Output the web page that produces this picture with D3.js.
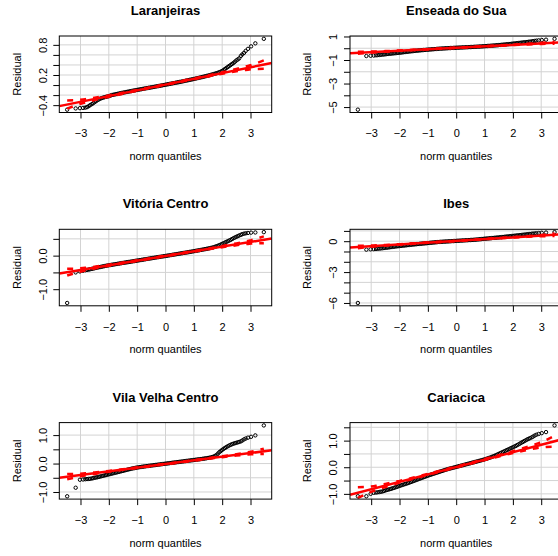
<!DOCTYPE html>
<html>
<head>
<meta charset="utf-8">
<script src="https://cdn.jsdelivr.net/npm/d3@7"></script>
<style>
body { margin: 0; background: #fff; }
text { font-family: "Liberation Sans", Arial, Helvetica, sans-serif; }
</style>
</head>
<body>
<div id="chart"></div>
<script>
// theoretical normal quantiles (x of every point)
const quantiles = [-3.47, -3.17, -3.02, -2.91, -2.83, -2.77, -2.71, -2.66,
    -2.6, -2.55, -2.5, -2.45, -2.4, -2.35, -2.3, -2.25, -2.2, -2.15,
    -2.1, -2.05, -2.0, -1.95, -1.9, -1.85, -1.8, -1.75, -1.7, -1.65,
    -1.6, -1.55, -1.5, -1.45, -1.4, -1.35, -1.3, -1.25, -1.2, -1.15,
    -1.1, -1.05, -1.0, -0.95, -0.9, -0.85, -0.8, -0.75, -0.7, -0.65,
    -0.6, -0.55, -0.5, -0.45, -0.4, -0.35, -0.3, -0.25, -0.2, -0.15,
    -0.1, -0.05, 0, 0.05, 0.1, 0.15, 0.2, 0.25, 0.3, 0.35,
    0.4, 0.45, 0.5, 0.55, 0.6, 0.65, 0.7, 0.75, 0.8, 0.85,
    0.9, 0.95, 1.0, 1.05, 1.1, 1.15, 1.2, 1.25, 1.3, 1.35,
    1.4, 1.45, 1.5, 1.55, 1.6, 1.65, 1.7, 1.75, 1.8, 1.85,
    1.9, 1.95, 2.0, 2.05, 2.1, 2.15, 2.2, 2.25, 2.3, 2.35,
    2.4, 2.45, 2.5, 2.55, 2.6,
    2.66, 2.71, 2.77, 2.83, 2.91, 3.02, 3.17, 3.47]

// sorted residuals, one per quantile
const laranjeiras = [-0.49, -0.465, -0.46, -0.455, -0.45, -0.44, -0.42, -0.40,
    -0.38, -0.36, -0.34, -0.32, -0.30, -0.285, -0.27, -0.26, -0.25, -0.242,
    -0.235, -0.228, -0.222, -0.211, -0.20, -0.194, -0.188, -0.182, -0.176, -0.17,
    -0.164, -0.158, -0.152, -0.146, -0.141, -0.135, -0.130, -0.124, -0.119, -0.113,
    -0.108, -0.102, -0.097, -0.092, -0.087, -0.082, -0.077, -0.071, -0.066, -0.061,
    -0.056, -0.051, -0.046, -0.041, -0.036, -0.03, -0.025, -0.02, -0.015, -0.01,
    -0.004, 0.001, 0.007, 0.012, 0.018, 0.023, 0.029, 0.034, 0.04, 0.045,
    0.051, 0.056, 0.062, 0.067, 0.073, 0.079, 0.085, 0.091, 0.097, 0.103,
    0.109, 0.115, 0.121, 0.127, 0.134, 0.14, 0.147, 0.153, 0.16, 0.167,
    0.174, 0.181, 0.188, 0.195, 0.203, 0.211, 0.219, 0.227, 0.236, 0.245,
    0.255, 0.267, 0.28, 0.30, 0.32, 0.34, 0.36, 0.38, 0.40, 0.42,
    0.44, 0.465, 0.49, 0.51, 0.53,
    0.58, 0.61, 0.64, 0.68, 0.72, 0.77, 0.83, 0.92]

const enseada = [-5.22, -0.66, -0.64, -0.62, -0.60, -0.585, -0.57, -0.555,
    -0.54, -0.525, -0.51, -0.495, -0.48, -0.467, -0.455, -0.442, -0.43, -0.417,
    -0.405, -0.392, -0.38, -0.365, -0.35, -0.335, -0.32, -0.305, -0.29, -0.275,
    -0.26, -0.247, -0.235, -0.222, -0.21, -0.197, -0.185, -0.172, -0.16, -0.15,
    -0.14, -0.13, -0.12, -0.11, -0.10, -0.09, -0.08, -0.07, -0.06, -0.05,
    -0.04, -0.032, -0.025, -0.017, -0.01, -0.002, 0.005, 0.012, 0.018, 0.024,
    0.03, 0.036, 0.042, 0.048, 0.054, 0.06, 0.066, 0.072, 0.078, 0.084,
    0.09, 0.096, 0.102, 0.108, 0.115, 0.121, 0.128, 0.135, 0.142, 0.149,
    0.157, 0.165, 0.173, 0.181, 0.19, 0.199, 0.208, 0.217, 0.227, 0.237,
    0.247, 0.257, 0.268, 0.279, 0.29, 0.301, 0.313, 0.325, 0.337, 0.349,
    0.362, 0.375, 0.388, 0.401, 0.415, 0.429, 0.443, 0.457, 0.472, 0.486,
    0.50, 0.515, 0.53, 0.545, 0.56,
    0.58, 0.60, 0.62, 0.645, 0.67, 0.70, 0.73, 0.80]

const vitoria = [-1.41, -0.50, -0.47, -0.45, -0.435, -0.425, -0.415, -0.405,
    -0.395, -0.385, -0.375, -0.365, -0.355, -0.346, -0.338, -0.329, -0.32, -0.311,
    -0.303, -0.295, -0.287, -0.28, -0.273, -0.266, -0.259, -0.252, -0.245, -0.238,
    -0.231, -0.224, -0.217, -0.21, -0.203, -0.196, -0.19, -0.183, -0.176, -0.169,
    -0.162, -0.155, -0.148, -0.141, -0.134, -0.127, -0.12, -0.113, -0.106, -0.099,
    -0.092, -0.085, -0.078, -0.071, -0.064, -0.057, -0.05, -0.043, -0.037, -0.03,
    -0.024, -0.017, -0.01, -0.003, 0.004, 0.011, 0.018, 0.025, 0.032, 0.039,
    0.046, 0.053, 0.06, 0.067, 0.074, 0.081, 0.088, 0.095, 0.102, 0.11,
    0.117, 0.124, 0.132, 0.14, 0.147, 0.154, 0.162, 0.17, 0.178, 0.186,
    0.194, 0.202, 0.211, 0.22, 0.229, 0.239, 0.25, 0.265, 0.28, 0.295,
    0.31, 0.33, 0.35, 0.37, 0.39, 0.41, 0.43, 0.45, 0.47, 0.495,
    0.52, 0.54, 0.56, 0.58, 0.60,
    0.62, 0.64, 0.655, 0.665, 0.675, 0.685, 0.69, 0.70]

const ibes = [-6.0, -0.82, -0.79, -0.77, -0.75, -0.73, -0.715, -0.70,
    -0.68, -0.665, -0.645, -0.627, -0.608, -0.59, -0.571, -0.553, -0.534, -0.516,
    -0.497, -0.484, -0.47, -0.454, -0.438, -0.423, -0.407, -0.392, -0.376, -0.361,
    -0.345, -0.33, -0.315, -0.302, -0.288, -0.275, -0.261, -0.248, -0.234, -0.221,
    -0.207, -0.194, -0.18, -0.167, -0.153, -0.14, -0.126, -0.113, -0.099, -0.086,
    -0.072, -0.064, -0.055, -0.047, -0.038, -0.03, -0.021, -0.013, -0.004, 0.005,
    0.013, 0.022, 0.03, 0.039, 0.047, 0.056, 0.064, 0.073, 0.081, 0.09,
    0.098, 0.107, 0.115, 0.124, 0.132, 0.141, 0.154, 0.168, 0.181, 0.195,
    0.208, 0.222, 0.235, 0.249, 0.261, 0.275, 0.287, 0.301, 0.313, 0.327,
    0.339, 0.353, 0.365, 0.38, 0.394, 0.409, 0.423, 0.438, 0.452, 0.467,
    0.481, 0.496, 0.51, 0.526, 0.541, 0.557, 0.572, 0.588, 0.603, 0.619,
    0.634, 0.65, 0.665, 0.684, 0.702,
    0.72, 0.735, 0.75, 0.77, 0.79, 0.815, 0.84, 0.88]

const vilaVelha = [-1.15, -0.85, -0.57, -0.56, -0.55, -0.545, -0.54, -0.535,
    -0.525, -0.512, -0.50, -0.49, -0.48, -0.467, -0.455, -0.442, -0.43, -0.417,
    -0.405, -0.392, -0.38, -0.367, -0.355, -0.342, -0.33, -0.317, -0.305, -0.292,
    -0.28, -0.267, -0.255, -0.242, -0.23, -0.217, -0.205, -0.192, -0.18, -0.17,
    -0.16, -0.15, -0.14, -0.132, -0.125, -0.117, -0.11, -0.103, -0.096, -0.089,
    -0.083, -0.076, -0.07, -0.063, -0.057, -0.05, -0.044, -0.037, -0.031, -0.024,
    -0.018, -0.011, -0.005, 0.002, 0.008, 0.015, 0.021, 0.028, 0.034, 0.041,
    0.047, 0.054, 0.06, 0.067, 0.073, 0.08, 0.086, 0.093, 0.099, 0.106,
    0.112, 0.119, 0.125, 0.132, 0.138, 0.145, 0.151, 0.158, 0.165, 0.172,
    0.18, 0.188, 0.196, 0.205, 0.215, 0.228, 0.245, 0.27, 0.30, 0.35,
    0.40, 0.44, 0.48, 0.515, 0.55, 0.58, 0.61, 0.635, 0.66, 0.68,
    0.70, 0.715, 0.73, 0.745, 0.76,
    0.78, 0.81, 0.85, 0.88, 0.91, 0.94, 0.99, 1.34]

const cariacica = [-1.09, -1.09, -1.0, -0.96, -0.95, -0.94, -0.93, -0.92,
    -0.91, -0.89, -0.87, -0.855, -0.84, -0.825, -0.81, -0.792, -0.775, -0.757,
    -0.74, -0.72, -0.70, -0.682, -0.665, -0.647, -0.63, -0.612, -0.595, -0.575,
    -0.555, -0.535, -0.515, -0.495, -0.475, -0.455, -0.435, -0.415, -0.395, -0.375,
    -0.355, -0.335, -0.315, -0.297, -0.28, -0.262, -0.245, -0.227, -0.21, -0.192,
    -0.175, -0.157, -0.14, -0.122, -0.105, -0.088, -0.072, -0.057, -0.043, -0.03,
    -0.016, -0.002, 0.012, 0.026, 0.04, 0.054, 0.068, 0.082, 0.096, 0.11,
    0.124, 0.138, 0.152, 0.166, 0.18, 0.194, 0.208, 0.222, 0.236, 0.25,
    0.265, 0.28, 0.295, 0.312, 0.33, 0.347, 0.365, 0.385, 0.405, 0.427,
    0.45, 0.475, 0.50, 0.525, 0.55, 0.575, 0.60, 0.625, 0.65, 0.675,
    0.70, 0.725, 0.75, 0.775, 0.80, 0.83, 0.86, 0.89, 0.92, 0.95,
    0.98, 1.01, 1.04, 1.065, 1.09,
    1.12, 1.15, 1.19, 1.22, 1.25, 1.28, 1.32, 1.57]

const titles     = ['Laranjeiras', 'Enseada do Sua', 'Vitória Centro', 'Ibes', 'Vila Velha Centro', 'Cariacica']
const residuals  = [laranjeiras, enseada, vitoria, ibes, vilaVelha, cariacica]
// robust reference line: residual = intercept + slope * quantile
const intercepts = [0.01, 0.04, -0.01, 0.03, -0.017, 0.01]
const slopes     = [0.1146, 0.123, 0.139, 0.17, 0.1285, 0.278]
// labelled y ticks (R drops the ones that would overlap)
const yLabels    = [[-0.4, 0.2, 0.8], [-5, -3, -1, 1], [-1, 0], [-6, -3, 0], [-1, 0, 1], [-1, 0, 1]]
// 95% envelope half width, as a multiple of the slope
const envZ   = [-3.47, -3.17, -3.02, -2.91, -2.83, -2.71, -2.5, -2.0, -1.5, -1.0, 0, 1.0, 1.5, 2.0, 2.5, 2.71, 2.83, 2.91, 3.02, 3.17, 3.47]
const envRel = [0.72, 0.46, 0.37, 0.32, 0.29, 0.25, 0.2, 0.12, 0.085, 0.066, 0.055, 0.066, 0.085, 0.12, 0.2, 0.25, 0.29, 0.32, 0.37, 0.46, 0.72]

const WIDTH  = 558
const HEIGHT = 556
const COL_W  = 290.7
const ROW_H  = 193.3
const box    = { left: 59.3, top: 36, width: 212.4, height: 76.5 }

const svg = d3.select('#chart').append('svg')
    .attr('width', WIDTH)
    .attr('height', HEIGHT)

svg.append('rect')
    .attr('width', WIDTH)
    .attr('height', HEIGHT)
    .attr('fill', '#fff')

// R style axis limits: data range plus 4% each side
const padded = ext => {
    const d = (ext[1] - ext[0]) * 0.04
    return [ext[0] - d, ext[1] + d]
}

const near = (a, b) => Math.abs(a - b) < 1e-9

residuals.forEach((res, i) => {
    const g = svg.append('g')
        .attr('transform', `translate(${(i % 2) * COL_W},${Math.floor(i / 2) * ROW_H})`)

    const x = d3.scaleLinear()
        .domain(padded(d3.extent(quantiles)))
        .range([box.left, box.left + box.width])

    const y = d3.scaleLinear()
        .domain(padded(d3.extent(res)))
        .range([box.top + box.height, box.top])

    const xTicks = x.ticks(6)
    const yTicks = y.ticks(6)
    const yFmt   = y.tickFormat(6)

    g.append('clipPath').attr('id', `clip${i}`)
        .append('rect')
        .attr('x', box.left).attr('y', box.top)
        .attr('width', box.width).attr('height', box.height)

    // grid
    const grid = g.append('g').attr('stroke', '#d3d3d3').attr('stroke-width', 1)
    grid.selectAll('.gx').data(xTicks).join('line')
        .attr('x1', d => x(d)).attr('x2', d => x(d))
        .attr('y1', box.top).attr('y2', box.top + box.height)
    grid.selectAll('.gy').data(yTicks).join('line')
        .attr('x1', box.left).attr('x2', box.left + box.width)
        .attr('y1', d => y(d)).attr('y2', d => y(d))

    // axes
    const xAxis = g.append('g')
        .attr('transform', `translate(0,${box.top + box.height})`)
        .call(d3.axisBottom(x).tickValues(xTicks).tickSize(6).tickPadding(11))
    xAxis.select('.domain').remove()
    xAxis.selectAll('text').attr('font-size', 11).attr('font-family', null).attr('fill', '#000')

    const yAxis = g.append('g')
        .attr('transform', `translate(${box.left},0)`)
        .call(d3.axisLeft(y).tickValues(yTicks).tickSize(6)
            .tickFormat(d => yLabels[i].some(v => near(v, d)) ? yFmt(d) : ''))
    yAxis.select('.domain').remove()
    yAxis.selectAll('text')
        .attr('font-size', 11).attr('font-family', null).attr('fill', '#000')
        .attr('text-anchor', 'middle')
        .attr('x', 0).attr('y', -12.6).attr('dy', 0)
        .attr('transform', 'rotate(-90)')

    g.selectAll('.tick line').attr('stroke', '#000')

    // points
    g.append('g')
        .attr('clip-path', `url(#clip${i})`)
        .selectAll('circle')
        .data(quantiles.map((q, k) => [q, res[k]]))
        .join('circle')
        .attr('cx', d => x(d[0]))
        .attr('cy', d => y(d[1]))
        .attr('r', 1.7)
        .attr('fill', 'none')
        .attr('stroke', '#000')
        .attr('stroke-width', 1)

    const a = intercepts[i]
    const b = slopes[i]
    const lines = g.append('g').attr('clip-path', `url(#clip${i})`)
        .attr('fill', 'none').attr('stroke', '#ff0000').attr('stroke-width', 2.5)

    lines.append('path')
        .attr('d', d3.line().x(z => x(z)).y(z => y(a + b * z))(x.domain()))

    ;[1, -1].forEach(sign => {
        lines.append('path')
            .attr('stroke-dasharray', '6,7')
            .attr('d', d3.line()
                .x(z => x(z))
                .y((z, k) => y(a + b * z + sign * envRel[k] * b))(envZ))
    })

    // frame
    g.append('rect')
        .attr('x', box.left).attr('y', box.top)
        .attr('width', box.width).attr('height', box.height)
        .attr('fill', 'none').attr('stroke', '#000').attr('stroke-width', 1)

    const cx = box.left + box.width / 2
    g.append('text')
        .attr('x', cx).attr('y', 15)
        .attr('text-anchor', 'middle')
        .attr('font-size', 13).attr('font-weight', 'bold')
        .text(titles[i])

    g.append('text')
        .attr('x', cx).attr('y', 160)
        .attr('text-anchor', 'middle')
        .attr('font-size', 11)
        .text('norm quantiles')

    g.append('text')
        .attr('transform', `translate(20.7,${box.top + box.height / 2}) rotate(-90)`)
        .attr('text-anchor', 'middle')
        .attr('font-size', 11)
        .text('Residual')
})
</script>
</body>
</html>
